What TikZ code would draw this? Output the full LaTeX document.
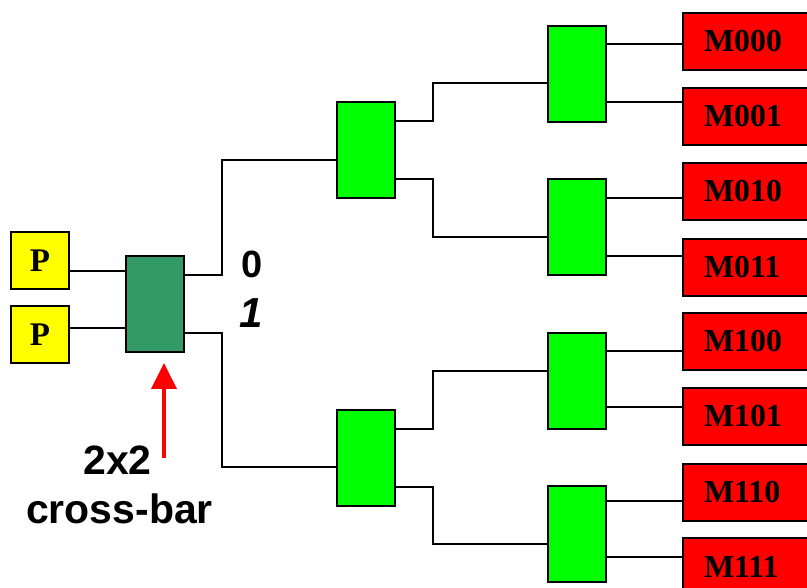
\documentclass[tikz,border=0pt]{standalone}
\usepackage{fontspec}
\setmainfont{Liberation Serif}
\newfontfamily\labelsans{Liberation Sans}
\usetikzlibrary{arrows.meta}
\definecolor{pyellow}{RGB}{255,255,0}
\definecolor{swgreen}{RGB}{0,255,0}
\definecolor{xbgreen}{RGB}{51,153,102}
\definecolor{memred}{RGB}{255,0,0}

\begin{document}
\begin{tikzpicture}[x=1pt,y=-1pt,
  box/.style={draw=black, line width=2pt, inner sep=0pt, outer sep=0pt},
  proc/.style={box, fill=pyellow, minimum width=58pt, minimum height=57pt,
    font=\bfseries\fontsize{33}{33}\selectfont},
  xbar/.style={box, fill=xbgreen, minimum width=58pt, minimum height=96pt},
  sw/.style={box, fill=swgreen, minimum width=58pt, minimum height=96pt},
  mem/.style={box, fill=memred, minimum height=57pt, text width=88pt,
    inner xsep=21pt, align=left, font=\bfseries\fontsize{32}{32}\selectfont},
  wire/.style={draw=black, line width=1.8pt},
  lbl/.style={inner sep=0pt, anchor=base, font=\labelsans\bfseries\fontsize{41}{41}\selectfont},
]
\useasboundingbox (0,0) rectangle (807,588);

% processors and the 2x2 cross-bar
\node[proc] (p1) at (40,261) {P};
\node[proc] (p2) at (40,334.5) {P};
\node[xbar] (xb) at (155,304) {};

% switching stages
\node[sw] (s0) at (366,150.5) {};
\node[sw] (s1) at (366,458) {};
\node[sw] (t0) at (577,74) {};
\node[sw] (t1) at (577,227.5) {};
\node[sw] (t2) at (577,381) {};
\node[sw] (t3) at (577,534) {};

% memory modules
\node[mem] (m000) at (748,41.5) {M000};
\node[mem] (m001) at (748,116.5) {M001};
\node[mem] (m010) at (748,191.5) {M010};
\node[mem] (m011) at (748,267.5) {M011};
\node[mem] (m100) at (748,341.5) {M100};
\node[mem] (m101) at (748,416.5) {M101};
\node[mem] (m110) at (748,492.5) {M110};
\node[mem] (m111) at (748,566.5) {M111};

% wire levels and bend columns
\coordinate (jA) at (222,0);
\coordinate (jB) at (433,0);
\foreach \v in {271,328,275,333,160,467,121,179,429,487,83,237,371,544,44,102,198,256,351,407,501,557}
  \coordinate (y\v) at (0,\v);

% processors into the cross-bar
\draw[wire] (p1.east |- y271) -- (xb.west |- y271);
\draw[wire] (p2.east |- y328) -- (xb.west |- y328);

% cross-bar to first stage
\draw[wire] (xb.east |- y275) -- (jA |- y275) -- (jA |- y160) -- (s0.west |- y160);
\draw[wire] (xb.east |- y333) -- (jA |- y333) -- (jA |- y467) -- (s1.west |- y467);

% first stage to second stage
\draw[wire] (s0.east |- y121) -- (jB |- y121) -- (jB |- y83)  -- (t0.west |- y83);
\draw[wire] (s0.east |- y179) -- (jB |- y179) -- (jB |- y237) -- (t1.west |- y237);
\draw[wire] (s1.east |- y429) -- (jB |- y429) -- (jB |- y371) -- (t2.west |- y371);
\draw[wire] (s1.east |- y487) -- (jB |- y487) -- (jB |- y544) -- (t3.west |- y544);

% second stage to memories
\draw[wire] (t0.east |- y44)  -- (m000.west |- y44);
\draw[wire] (t0.east |- y102) -- (m001.west |- y102);
\draw[wire] (t1.east |- y198) -- (m010.west |- y198);
\draw[wire] (t1.east |- y256) -- (m011.west |- y256);
\draw[wire] (t2.east |- y351) -- (m100.west |- y351);
\draw[wire] (t2.east |- y407) -- (m101.west |- y407);
\draw[wire] (t3.east |- y501) -- (m110.west |- y501);
\draw[wire] (t3.east |- y557) -- (m111.west |- y557);

% output port labels
\node[lbl, font=\labelsans\bfseries\fontsize{38}{38}\selectfont] (bit0) at (252,278) {0};
\node[lbl, font=\labelsans\bfseries\itshape\fontsize{42}{42}\selectfont] (bit1) at (251,328) {1};

% cross-bar caption and pointer
\node[lbl] (cap1) at (117.5,475) {2x2};
\node[lbl] (cap2) at (119.5,523) {cross-bar};
\coordinate (af) at (164,458);
\draw[red, line width=4pt, shorten >=11pt, -{Triangle[width=25pt,length=26pt]}] (af) -- (af |- xb.south);
\end{tikzpicture}
\end{document}
